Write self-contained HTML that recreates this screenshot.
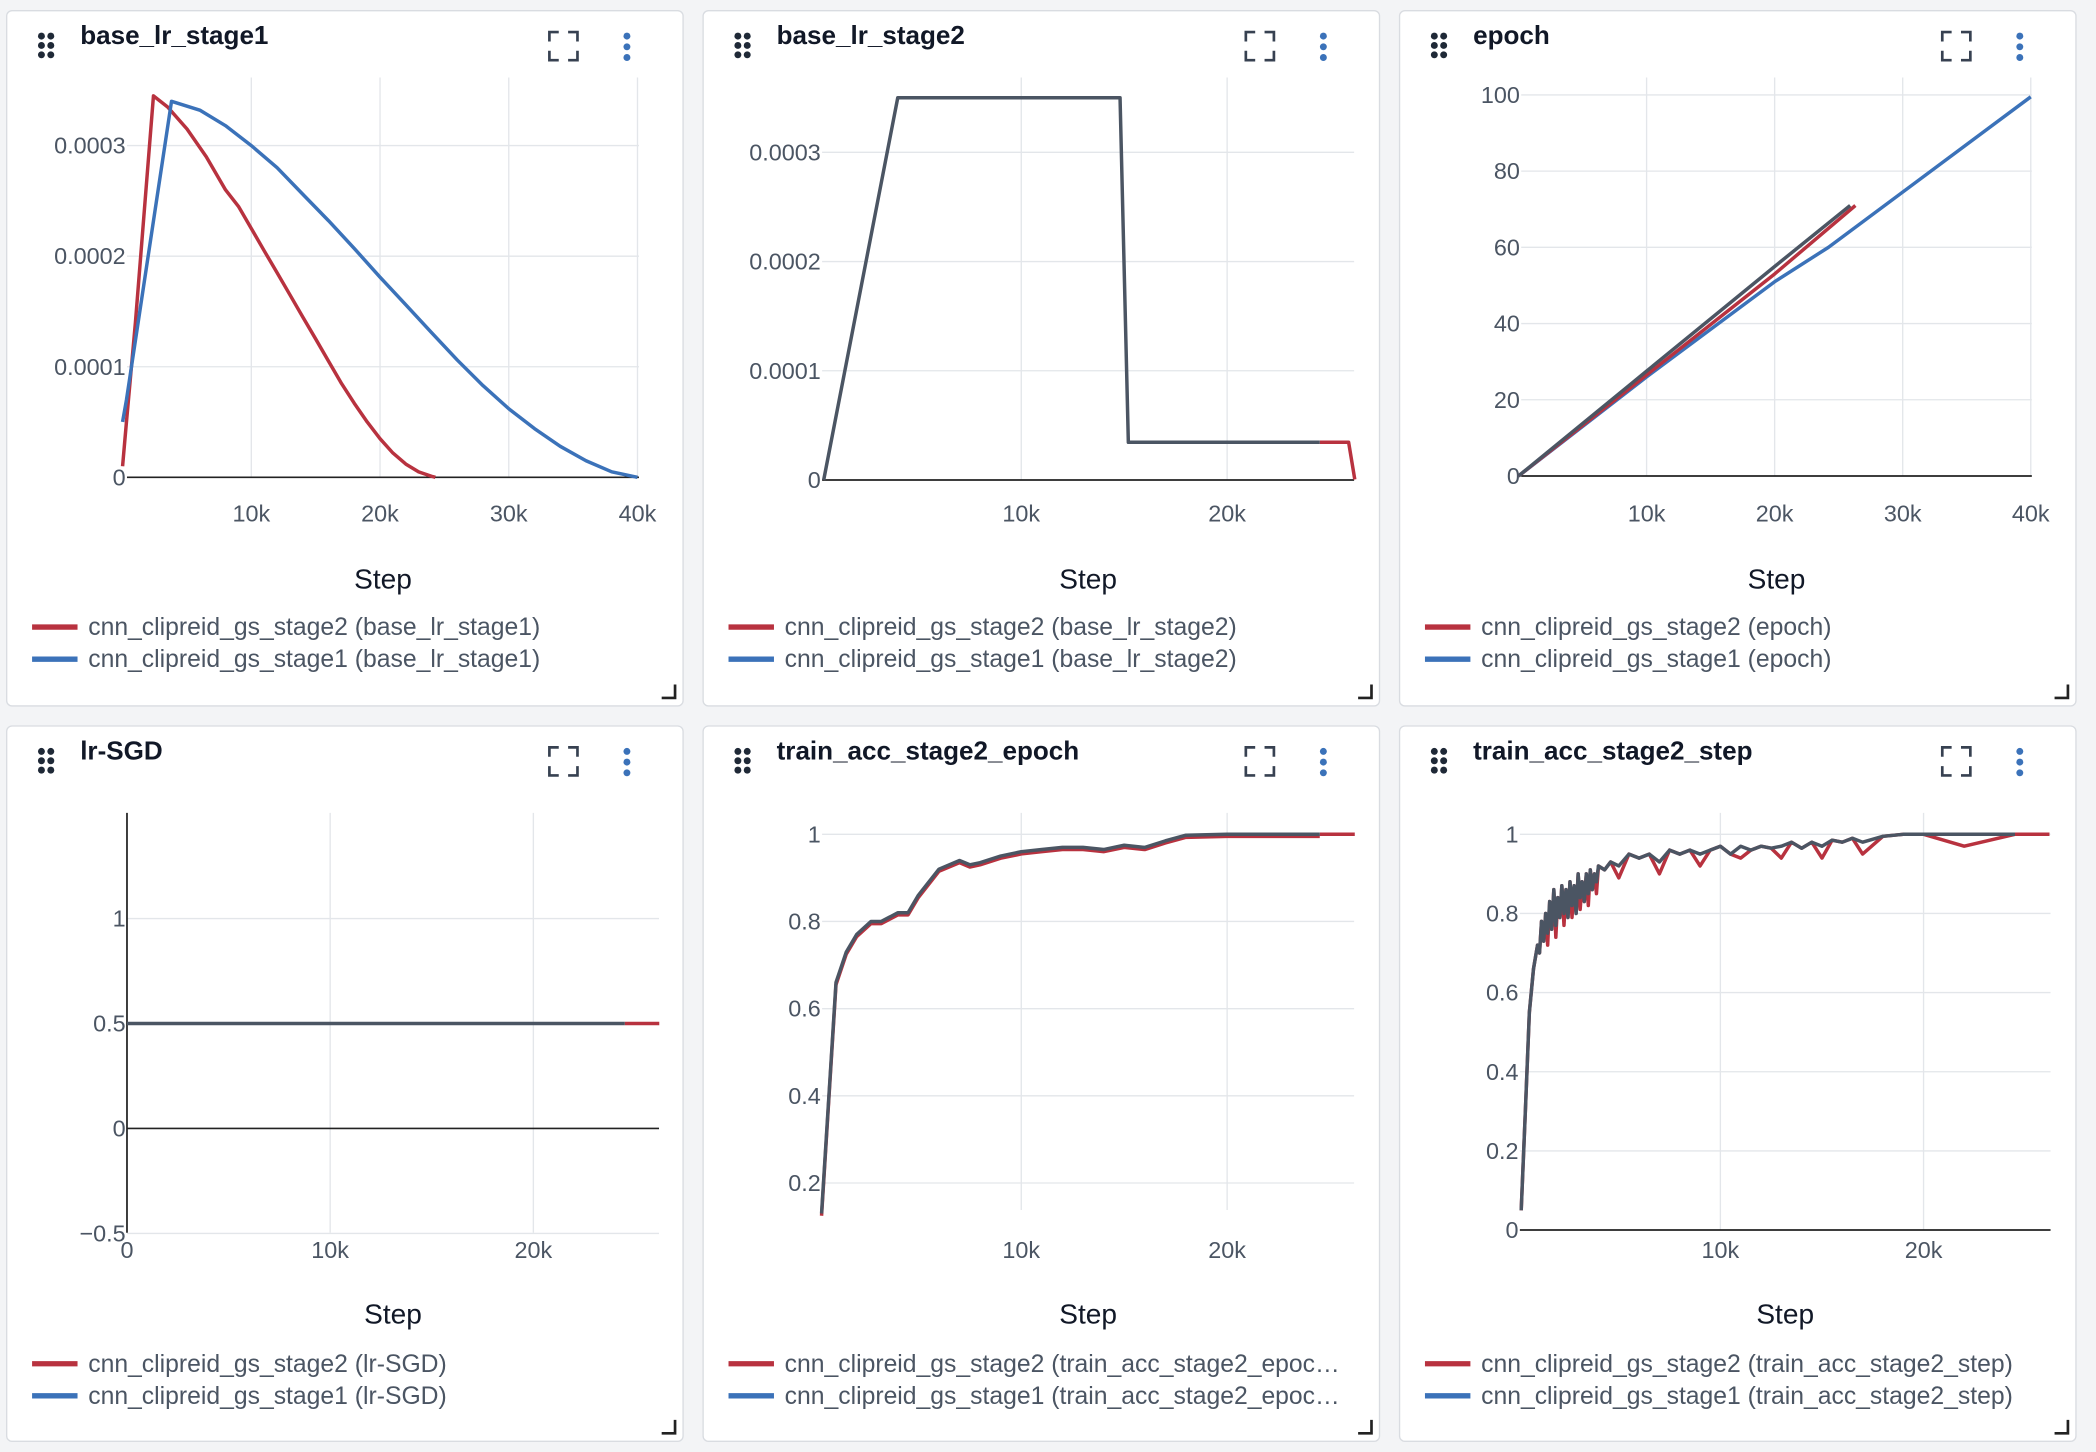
<!DOCTYPE html>
<html><head><meta charset="utf-8">
<style>
html,body{margin:0;padding:0;background:#f3f4f6;width:2096px;height:1452px;overflow:hidden}
svg{display:block}
text{font-family:"Liberation Sans",sans-serif}
</style></head>
<body>
<svg id="root" width="2096" height="1452" viewBox="0 0 1568 1086" preserveAspectRatio="none" xmlns="http://www.w3.org/2000/svg"></svg>
<script>
// ---- data (steps in thousands) ----
const lr1RedX=[0,0.3,1,2.4,3.5,5,6.5,8,9,10,11,12,13,14,15,16,17,18,19,20,21,22,23,24,24.3];
const lr1RedY=[0.00001,0.00005,0.00014,0.000345,0.000335,0.000315,0.00029,0.00026,0.000245,0.000225,0.000205,0.000185,0.000165,0.000145,0.000125,0.000105,0.000085,0.000067,0.00005,0.000035,0.000022,0.000012,0.000005,0.000001,0];
const lr1BlueX=[0,0.3,3.8,6,8,10,12,14,16,18,20,22,24,26,28,30,32,34,36,38,40];
const lr1BlueY=[0.00005,0.00007,0.00034,0.000332,0.000318,0.0003,0.00028,0.000256,0.000232,0.000207,0.000181,0.000156,0.000131,0.000106,0.000083,0.000062,0.000044,0.000028,0.000015,0.000005,0];
const lr2GrayX=[0.4,4,14.8,15.2,24.5];
const lr2GrayY=[0,0.00035,0.00035,0.0000345,0.0000345];
const lr2RedX=[24.5,25.9,26.2];
const lr2RedY=[0.0000345,0.0000345,0.0000005];
const epBlueX=[0,10,20,24.2,40]; const epBlueY=[0,26,51,60,99.5];
const epRedX=[0,10,20,26.3]; const epRedY=[0,26.5,53,71];
const epGrayX=[0,10,20,25.9]; const epGrayY=[0,27.5,55,71];
const sgdGrayX=[0,24.5]; const sgdGrayY=[0.5,0.5];
const sgdRedX=[24.5,26.2]; const sgdRedY=[0.5,0.5];
const accEX=[0.3,1,1.5,2,2.7,3.2,4,4.5,5,6,7,7.5,8,9,10,11,12,13,14,15,16,17,18,20,22,24.5];
const accEY=[0.13,0.66,0.73,0.77,0.8,0.8,0.82,0.82,0.86,0.92,0.94,0.93,0.935,0.95,0.96,0.965,0.97,0.97,0.965,0.975,0.97,0.985,0.998,1,1,1];
const accERedX=[24.5,26.2]; const accERedY=[1,1];
const accSX=[0.2,0.4,0.6,0.8,1,1.1,1.2,1.3,1.4,1.5,1.6,1.7,1.8,1.9,2,2.1,2.2,2.3,2.4,2.5,2.6,2.7,2.8,2.9,3,3.1,3.2,3.3,3.4,3.5,3.6,3.7,3.8,3.9,4,4.3,4.6,5,5.5,6,6.5,7,7.5,8,8.5,9,9.5,10,10.5,11,11.5,12,12.5,13,13.5,14,14.5,15,15.5,16,16.5,17,18,19,20,22,24.5];
const accSY=[0.05,0.3,0.55,0.66,0.72,0.7,0.78,0.73,0.8,0.75,0.83,0.76,0.86,0.77,0.84,0.79,0.87,0.8,0.86,0.79,0.88,0.82,0.87,0.8,0.9,0.84,0.88,0.83,0.9,0.85,0.91,0.86,0.9,0.88,0.92,0.91,0.93,0.92,0.95,0.94,0.95,0.93,0.96,0.95,0.96,0.95,0.96,0.97,0.95,0.97,0.96,0.97,0.965,0.97,0.98,0.965,0.98,0.97,0.985,0.98,0.99,0.98,0.995,1,1,1,1];
const accSRedX=[24.5,26.2]; const accSRedY=[1,1];

const RED='#b8323f',BLUE='#3b72b9',GRAY='#4b5563';
const NS='http://www.w3.org/2000/svg';
const root=document.getElementById('root');
function mk(tag,attrs,parent){const e=document.createElementNS(NS,tag);for(const k in attrs)e.setAttribute(k,attrs[k]);(parent||root).appendChild(e);return e;}

const panels=[
 {name:'base-lr-stage1',title:'base_lr_stage1',x:5,y:8,w:506,h:520,px0:91.7,ppk:9.63,py0:357,ppu:827000,left:95,right:478,top:58,bottom:357,xty:390,
  xt:[10,20,30,40],xl:['10k','20k','30k','40k'],yt:[0,0.0001,0.0002,0.0003],yl:['0','0.0001','0.0002','0.0003'],zero:true,
  series:[[lr1RedX,lr1RedY,RED],[lr1BlueX,lr1BlueY,BLUE]],leg:['cnn_clipreid_gs_stage2 (base_lr_stage1)','cnn_clipreid_gs_stage1 (base_lr_stage1)']},
 {name:'base-lr-stage2',title:'base_lr_stage2',x:526,y:8,w:506,h:520,px0:610,ppk:15.4,py0:359,ppu:817000,left:615,right:1013,top:58,bottom:359,xty:390,
  xt:[10,20],xl:['10k','20k'],yt:[0,0.0001,0.0002,0.0003],yl:['0','0.0001','0.0002','0.0003'],zero:true,
  series:[[lr2RedX,lr2RedY,RED],[lr2GrayX,lr2GrayY,GRAY]],leg:['cnn_clipreid_gs_stage2 (base_lr_stage2)','cnn_clipreid_gs_stage1 (base_lr_stage2)']},
 {name:'epoch',title:'epoch',x:1047,y:8,w:506,h:520,px0:1136,ppk:9.58,py0:356,ppu:2.85,left:1138,right:1520,top:58,bottom:356,xty:390,
  xt:[10,20,30,40],xl:['10k','20k','30k','40k'],yt:[0,20,40,60,80,100],yl:['0','20','40','60','80','100'],zero:true,
  series:[[epBlueX,epBlueY,BLUE],[epRedX,epRedY,RED],[epGrayX,epGrayY,GRAY]],leg:['cnn_clipreid_gs_stage2 (epoch)','cnn_clipreid_gs_stage1 (epoch)']},
 {name:'lr-sgd',title:'lr-SGD',x:5,y:543,w:506,h:535,px0:95,ppk:15.2,py0:844,ppu:157,left:95,right:493,top:608,bottom:922,xty:941,
  xt:[10,20],xl:['10k','20k'],yt:[-0.5,0,0.5,1],yl:['−0.5','0','0.5','1'],zero:true,yaxis:true,xzero:'0',
  series:[[sgdRedX,sgdRedY,RED],[sgdGrayX,sgdGrayY,GRAY]],leg:['cnn_clipreid_gs_stage2 (lr-SGD)','cnn_clipreid_gs_stage1 (lr-SGD)']},
 {name:'train-acc-stage2-epoch',title:'train_acc_stage2_epoch',x:526,y:543,w:506,h:535,px0:610,ppk:15.4,py0:950,ppu:326,left:615,right:1013,top:608,bottom:905,xty:941,
  xt:[10,20],xl:['10k','20k'],yt:[0.2,0.4,0.6,0.8,1],yl:['0.2','0.4','0.6','0.8','1'],zero:false,
  series:[[accERedX,accERedY,RED],[accEX,accEY.map(v=>v-0.005),RED],[accEX,accEY,GRAY]],leg:['cnn_clipreid_gs_stage2 (train_acc_stage2_epoc…','cnn_clipreid_gs_stage1 (train_acc_stage2_epoc…']},
 {name:'train-acc-stage2-step',title:'train_acc_stage2_step',x:1047,y:543,w:506,h:535,px0:1135,ppk:15.2,py0:920,ppu:296,left:1137,right:1534,top:608,bottom:920,xty:941,
  xt:[10,20],xl:['10k','20k'],yt:[0,0.2,0.4,0.6,0.8,1],yl:['0','0.2','0.4','0.6','0.8','1'],zero:true,
  series:[[accSRedX,accSRedY,RED],[accSX,accSY.map((v,i)=>i%4==1&&i>8?v-0.03:v),RED],[accSX,accSY,GRAY]],leg:['cnn_clipreid_gs_stage2 (train_acc_stage2_step)','cnn_clipreid_gs_stage1 (train_acc_stage2_step)']},
];

panels.forEach(p=>{
  const g=mk('g',{});
  
  
  const card=mk('rect',{x:p.x,y:p.y,width:p.w,height:p.h,rx:4,fill:'#fff',stroke:'#d9dce1','stroke-width':1},g);
  
  
  const dh=mk('g',{},g);
  
  
  for(let r=0;r<3;r++)for(let c=0;c<2;c++)mk('circle',{cx:p.x+26+c*7,cy:p.y+19+r*7,r:2.6,fill:'#1f2937'},dh);
  const t=mk('text',{x:p.x+55,y:p.y+25,'font-size':19.5,'font-weight':'bold',fill:'#111827'},g);
  t.textContent=p.title;
  
  
  const ex=mk('path',{d:`M${p.x+406},${p.y+23}v-7h7 M${p.x+420},${p.y+16}h7v7 M${p.x+427},${p.y+30}v7h-7 M${p.x+413},${p.y+37}h-7v-7`,fill:'none',stroke:'#374151','stroke-width':2},g);
  
  
  const kb=mk('g',{},g);
  
  
  for(let i=0;i<3;i++)mk('circle',{cx:p.x+464,cy:p.y+19+i*8,r:2.6,fill:'#3b72b9'},kb);
  const X=k=>p.px0+k*p.ppk, Y=v=>p.py0-v*p.ppu;
  p.xt.forEach((k,i)=>{
    const l=mk('line',{x1:X(k),x2:X(k),y1:p.top,y2:p.bottom,stroke:'#e3e6ea'},g);
    
    
    const tx=mk('text',{x:X(k),y:p.xty,'text-anchor':'middle','font-size':17.5,fill:'#4b5563'},g);
    tx.textContent=p.xl[i];
    
    
  });
  p.yt.forEach((v,i)=>{
    const isZero=v===0&&p.zero;
    const l=mk('line',{x1:p.left,x2:p.right,y1:Y(v),y2:Y(v),stroke:isZero?'#222':'#e3e6ea','stroke-width':isZero?1.3:1},g);
    
    
    const ty=mk('text',{x:p.left-1,y:Y(v)+6,'text-anchor':'end','font-size':17.5,fill:'#4b5563'},g);
    ty.textContent=p.yl[i];
    
    
  });
  if(p.yaxis){
    const ya=mk('line',{x1:p.left,x2:p.left,y1:p.top,y2:p.bottom,stroke:'#222','stroke-width':1.3},g);
    
    
    const z=mk('text',{x:p.left,y:p.xty,'text-anchor':'middle','font-size':17.5,fill:'#4b5563'},g);
    z.textContent=p.xzero;
    
    
  }
  p.series.forEach(s=>{
    const pts=s[0].map((k,i)=>X(k).toFixed(1)+','+Y(s[1][i]).toFixed(1)).join(' ');
    const pl=mk('polyline',{points:pts,fill:'none',stroke:s[2],'stroke-width':2.6,'stroke-linejoin':'round'},g);
    
    
  });
  const xt=mk('text',{x:(p.left+p.right)/2,y:p.y+(p.h>525?447:432),'text-anchor':'middle','font-size':21,fill:'#111827'},g);
  xt.textContent='Step';
  
  
  const ly=p.y+(p.h>525?477:461);
  [RED,BLUE].forEach((c,i)=>{
    const le=mk('g',{},g);
    
    
    mk('line',{x1:p.x+19,x2:p.x+53,y1:ly+i*24,y2:ly+i*24,stroke:c,'stroke-width':4},le);
    const lt=mk('text',{x:p.x+61,y:ly+i*24+6,'font-size':18.5,fill:'#4b5563'},le);
    lt.textContent=p.leg[i];
  });
  const rc=mk('path',{d:`M${p.x+p.w-16},${p.y+p.h-6}h10v-10`,fill:'none',stroke:'#222','stroke-width':2},g);
  
  
});
</script>
</body></html>
